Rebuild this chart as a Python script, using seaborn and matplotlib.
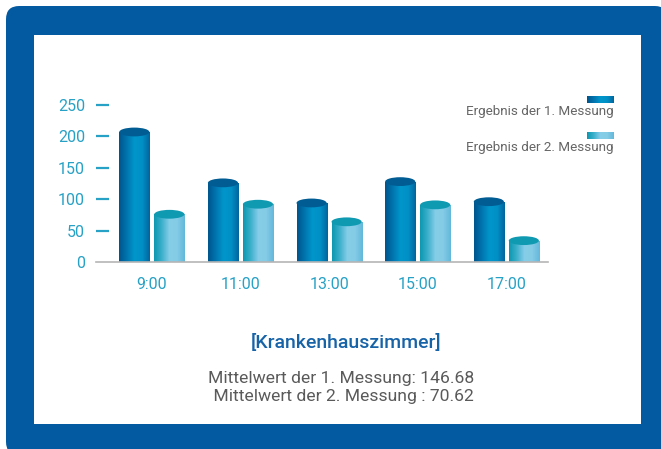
import numpy as np
import pandas as pd
import matplotlib
matplotlib.use('Agg')
import matplotlib.pyplot as plt
from matplotlib.colors import LinearSegmentedColormap
from matplotlib.patches import FancyBboxPatch, Rectangle, Ellipse
import seaborn as sns

# ── data ─────────────────────────────────────
zeiten = ['9:00', '11:00', '13:00', '15:00', '17:00']
messung_1 = [207, 126, 94, 128, 96]
messung_2 = [76, 92, 64, 91, 34]
serien = ['Ergebnis der 1. Messung', 'Ergebnis der 2. Messung']
y_ticks = [0, 50, 100, 150, 200, 250]
titel = '[Krankenhauszimmer]'
mittelwerte = ['Mittelwert der 1. Messung: 146.68',
               ' Mittelwert der 2. Messung : 70.62']

df = pd.DataFrame({
    'Zeit': zeiten * 2,
    'Wert': messung_1 + messung_2,
    'Messung': [serien[0]] * len(zeiten) + [serien[1]] * len(zeiten),
})

# ── colours ──────────────────────────────────
FRAME = '#035aa0'
TEAL = '#27a1c5'
GREY = '#5a5a5a'
cmap_1 = LinearSegmentedColormap.from_list(
    'm1', ['#00548c', '#0074ae', '#0096cb', '#0090c6', '#00649c'])
cmap_2 = LinearSegmentedColormap.from_list(
    'm2', ['#0b97b0', '#3cb0cc', '#86cde8', '#84cbe6', '#62b8da'])
top_1 = '#005c93'
top_2 = '#0f9ab2'

sns.set_theme(style='white')
plt.rcParams['font.family'] = ['Roboto', 'DejaVu Sans']

W, H = 661, 449
fig = plt.figure(figsize=(W / 100, H / 100), dpi=100)
fig.patch.set_facecolor('white')


def fx(px):
    return px / W


def fy(py):
    return 1 - py / H


# frame (drawn behind the axes)
fig.patches.append(FancyBboxPatch(
    (fx(6), fy(455)), fx(662), 449 / H, boxstyle='round,pad=0,rounding_size=0.02',
    transform=fig.transFigure, facecolor=FRAME, edgecolor='none', zorder=-2,
    mutation_aspect=W / H))
fig.patches.append(Rectangle(
    (fx(34), fy(424)), fx(641 - 34), (424 - 35) / H,
    transform=fig.transFigure, facecolor='white', edgecolor='none', zorder=-1))

# ── bar chart ────────────────────────────────
ax = fig.add_axes([fx(96), fy(262), fx(548 - 96), (262 - 98.7) / H])
ax.set_zorder(2)
ax.patch.set_alpha(0)
sns.barplot(data=df, x='Zeit', y='Wert', hue='Messung', order=zeiten,
            hue_order=serien, width=0.79, gap=0.14, errorbar=None,
            legend=False, ax=ax)

grad = np.linspace(0, 1, 256).reshape(1, -1)
n = len(zeiten)
for i, bar in enumerate(ax.patches[:2 * n]):
    cm, top = (cmap_1, top_1) if i < n else (cmap_2, top_2)
    x0, w, h = bar.get_x(), bar.get_width(), bar.get_height()
    bar.set_facecolor('none')
    bar.set_edgecolor('none')
    im = ax.imshow(grad, cmap=cm, extent=(x0, x0 + w, 0, h),
                   aspect='auto', zorder=2, interpolation='bilinear')
    im.set_clip_path(bar)
    ax.add_patch(Ellipse((x0 + w / 2, h), w, 14, facecolor=top,
                         edgecolor='none', zorder=3))

ax.set_xlim(-0.63, 4.47)
ax.set_ylim(0, 260)
ax.set_xlabel('')
ax.set_ylabel('')
ax.set_yticks(y_ticks)
ax.tick_params(axis='y', direction='in', length=9.5, width=1.6, color=TEAL,
               pad=8, labelsize=11.5, labelcolor=TEAL, left=True)
ax.tick_params(axis='x', length=0, pad=11, labelsize=11.5, labelcolor=TEAL)
ax.yaxis.get_major_ticks()[0].tick1line.set_visible(False)
for s in ['left', 'right', 'top']:
    ax.spines[s].set_visible(False)
ax.spines['bottom'].set_color('#b5b5b5')
ax.spines['bottom'].set_linewidth(1.2)

# ── legend ───────────────────────────────────
for (ys, yt), cm, name in zip([(96, 112), (132, 147)], [cmap_1, cmap_2], serien):
    sw = fig.add_axes([fx(587), fy(ys + 7), fx(27), 7 / H])
    sw.set_zorder(2)
    sw.imshow(grad, cmap=cm, aspect='auto', interpolation='bilinear')
    sw.axis('off')
    fig.text(fx(614), fy(yt), name, ha='right', va='center',
             fontsize=9.7, color='#666666')

# ── caption ──────────────────────────────────
fig.text(fx(346), fy(343), titel, ha='center', va='center',
         fontsize=14, fontweight='medium', color='#1763a8')
fig.text(fx(341), fy(378), mittelwerte[0], ha='center', va='center',
         fontsize=12.6, color=GREY)
fig.text(fx(341), fy(396), mittelwerte[1], ha='center', va='center',
         fontsize=12.6, color=GREY)

fig.savefig('out.png', dpi=100)
